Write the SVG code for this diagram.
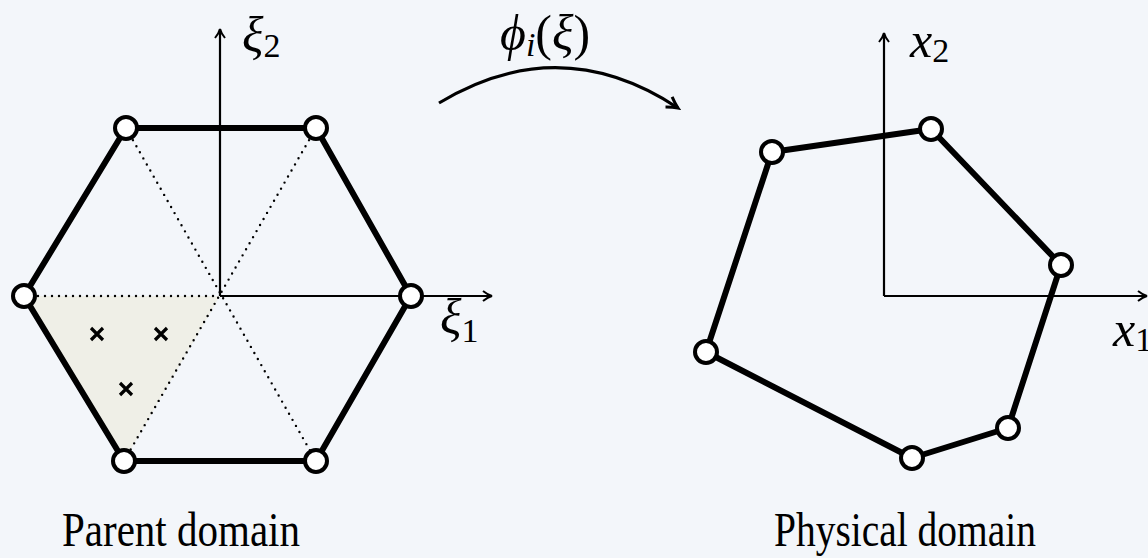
<svg xmlns="http://www.w3.org/2000/svg" width="1148" height="558" viewBox="0 0 1148 558">
<defs>
<marker id="ah" viewBox="0 0 12 12" refX="10" refY="6" markerWidth="12" markerHeight="12" markerUnits="userSpaceOnUse" orient="auto">
<path d="M1,1 Q6,5 10,6 Q6,7 1,11" fill="none" stroke="#000" stroke-width="2"/>
</marker>
<marker id="ah2" viewBox="0 0 16 16" refX="13" refY="8" markerWidth="16" markerHeight="16" markerUnits="userSpaceOnUse" orient="auto">
<path d="M2,2 Q8,6 13,8 Q8,10 2,14" fill="none" stroke="#000" stroke-width="3"/>
</marker>
</defs>
<style>
.edge{fill:none;stroke:#000;stroke-width:6;stroke-linejoin:round}
.axis{fill:none;stroke:#000;stroke-width:2.2}
.dot{fill:none;stroke:#000;stroke-width:2.4;stroke-dasharray:0 7;stroke-linecap:round}
.node{fill:#fff;stroke:#000;stroke-width:4}
.cross{stroke:#000;stroke-width:3.2}
.lbl{font-family:"Liberation Serif","DejaVu Serif",serif;font-size:48px;fill:#000}
.math{font-family:"Liberation Serif","DejaVu Serif",serif;font-style:italic;font-size:50px;fill:#000}
.sub{font-family:"Liberation Serif","DejaVu Serif",serif;font-size:34px;fill:#000}
</style>
<rect width="1148" height="558" fill="#f3f6fa"/>
<g id="parent">
<polygon points="24,296 220,296 124,461" fill="#efefe7"/>
<line class="dot" x1="24" y1="296" x2="220" y2="296"/>
<line class="dot" x1="126" y1="128" x2="316" y2="461"/>
<line class="dot" x1="316" y1="128" x2="124" y2="461"/>
<line class="axis" x1="220" y1="296" x2="220" y2="29" marker-end="url(#ah)"/>
<line class="axis" x1="220" y1="296" x2="492" y2="296" marker-end="url(#ah)"/>
<polygon class="edge" points="126,128 316,128 411,296 316,461 124,461 24,296"/>
<g class="cross"><path d="M91,328 L103,340 M103,328 L91,340"/><path d="M155,328 L167,340 M167,328 L155,340"/><path d="M120,383 L132,395 M132,383 L120,395"/></g>
<circle class="node" cx="126" cy="128" r="11"/>
<circle class="node" cx="316" cy="128" r="11"/>
<circle class="node" cx="411" cy="296" r="11"/>
<circle class="node" cx="316" cy="461" r="11"/>
<circle class="node" cx="124" cy="461" r="11"/>
<circle class="node" cx="24" cy="296" r="11"/>
<text class="math" x="242" y="52">ξ<tspan class="sub" font-style="normal" dy="5">2</tspan></text>
<text class="math" x="440" y="334">ξ<tspan class="sub" font-style="normal" dy="8">1</tspan></text>
<text class="lbl" x="62" y="546" textLength="238" lengthAdjust="spacingAndGlyphs">Parent domain</text>
</g>
<g id="physical">
<line class="axis" x1="884" y1="296" x2="884" y2="33" marker-end="url(#ah)"/>
<line class="axis" x1="884" y1="296" x2="1147" y2="296" marker-end="url(#ah)"/>
<polygon class="edge" points="772,152 931,129 1061,265 1008,428 912,458 706,352"/>
<circle class="node" cx="772" cy="152" r="11"/>
<circle class="node" cx="931" cy="129" r="11"/>
<circle class="node" cx="1061" cy="265" r="11"/>
<circle class="node" cx="1008" cy="428" r="11"/>
<circle class="node" cx="912" cy="458" r="11"/>
<circle class="node" cx="706" cy="352" r="11"/>
<text class="math" x="910" y="57">x<tspan class="sub" font-style="normal" dy="5">2</tspan></text>
<text class="math" x="1113" y="346">x<tspan class="sub" font-style="normal" dy="5">1</tspan></text>
<text class="lbl" x="774" y="546" textLength="262" lengthAdjust="spacingAndGlyphs">Physical domain</text>
</g>
<g id="connectors">
<path d="M439,103 Q560,30 678,108" fill="none" stroke="#000" stroke-width="3.2" marker-end="url(#ah2)"/>
<text class="math" x="500" y="50">ϕ<tspan class="sub" dy="6">i</tspan><tspan font-style="normal" dy="-6">(</tspan>ξ<tspan font-style="normal">)</tspan></text>
</g>
</svg>
